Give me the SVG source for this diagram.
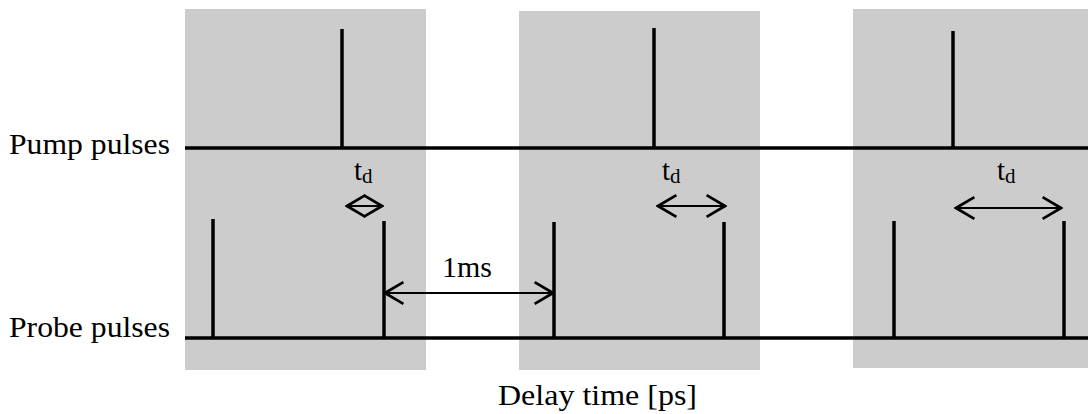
<svg xmlns="http://www.w3.org/2000/svg" width="1088" height="414" viewBox="0 0 1088 414">
<style>
.box{fill:#cccccc;stroke:none}
.axis{stroke:#000;stroke-width:3.5;fill:none}
.pulse{stroke:#000;stroke-width:3.5;fill:none}
.arr{stroke:#000;stroke-width:2.2;fill:none;marker-start:url(#chev);marker-end:url(#chev)}
.sub{font-size:21px}
</style>
<defs>
<marker id="chev" markerUnits="userSpaceOnUse" markerWidth="24" markerHeight="26" viewBox="-20 -12 22 24" refX="0" refY="0" orient="auto-start-reverse">
<path d="M-17,-10 L0,0 L-17,10" fill="none" stroke="#000" stroke-width="2.5"/>
</marker>
</defs>
<g id="windows">
<rect id="window1" class="box" x="185" y="9" width="241" height="361"/>
<rect id="window2" class="box" x="519" y="11" width="241" height="359"/>
<rect id="window3" class="box" x="853" y="9" width="235" height="359"/>
</g>
<g id="pump-train">
<line class="axis" x1="185" y1="148" x2="1088" y2="148"/>
<line class="pulse" x1="342" y1="29" x2="342" y2="148"/>
<line class="pulse" x1="654" y1="28" x2="654" y2="148"/>
<line class="pulse" x1="953" y1="31" x2="953" y2="148"/>
</g>
<g id="probe-train">
<line class="axis" x1="185" y1="338" x2="1088" y2="338"/>
<line class="pulse" x1="213" y1="219" x2="213" y2="338"/>
<line class="pulse" x1="384" y1="221" x2="384" y2="338"/>
<line class="pulse" x1="554" y1="222" x2="554" y2="338"/>
<line class="pulse" x1="724" y1="222" x2="724" y2="338"/>
<line class="pulse" x1="894" y1="221" x2="894" y2="338"/>
<line class="pulse" x1="1064" y1="221" x2="1064" y2="338"/>
</g>
<g id="connectors">
<line class="arr" x1="347" y1="206" x2="382" y2="206"/>
<line class="arr" x1="658" y1="206" x2="725" y2="206"/>
<line class="arr" x1="956" y1="208" x2="1061" y2="208"/>
<line class="arr" x1="385" y1="293" x2="553" y2="293"/>
</g>
<g id="labels" font-family="'Liberation Serif', 'Times New Roman', Times, serif" font-size="29" fill="#000">
<text id="pump-label" x="9" y="154" textLength="161" lengthAdjust="spacingAndGlyphs">Pump pulses</text>
<text id="probe-label" x="9" y="337" textLength="161" lengthAdjust="spacingAndGlyphs">Probe pulses</text>
<text id="axis-label" x="498" y="405" textLength="199" lengthAdjust="spacingAndGlyphs">Delay time [ps]</text>
<text id="period-label" x="442" y="277" textLength="50" lengthAdjust="spacingAndGlyphs">1ms</text>
<text id="td1" x="354" y="180">t<tspan class="sub" dy="3">d</tspan></text>
<text id="td2" x="662" y="180">t<tspan class="sub" dy="3">d</tspan></text>
<text id="td3" x="997" y="180">t<tspan class="sub" dy="3">d</tspan></text>
</g>
</svg>
